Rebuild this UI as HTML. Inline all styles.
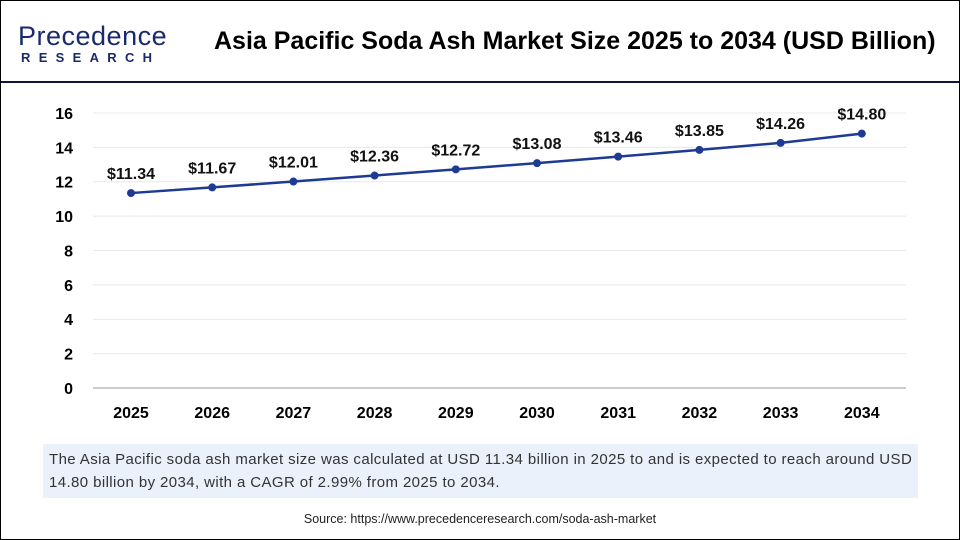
<!DOCTYPE html>
<html><head><meta charset="utf-8"><style>
body{margin:0;background:#fff;font-family:"Liberation Sans",Arial,sans-serif;}
#root{position:relative;width:958px;height:538px;border:1px solid #000;overflow:hidden;background:#fff;}
.abs{position:absolute;}
</style></head><body>
<div id="root">
 <div class="abs" style="left:17px;top:20px;width:140px;height:45px;">
  <div style="font-size:27px;color:#1a2a6c;letter-spacing:0.5px;line-height:30px;">Precedence</div>
  <div style="font-size:13px;font-weight:bold;color:#1a2a6c;letter-spacing:8.3px;line-height:14px;margin-left:3px;">RESEARCH</div>
 </div>
 <div class="abs" style="left:213px;top:26px;width:720px;font-size:25px;font-weight:bold;color:#000;white-space:nowrap;">Asia Pacific Soda Ash Market Size 2025 to 2034 (USD Billion)</div>
 <div class="abs" style="left:0;top:80px;width:958px;height:2px;background:#0d1440;"></div>
 <svg class="abs" style="left:0;top:0" width="958" height="440" id="chart"></svg>
 <div class="abs" style="left:42px;top:443px;width:863px;height:46px;padding:4px 6px;background:#eaf1fa;font-size:15px;letter-spacing:0.4px;line-height:23px;color:#333;white-space:nowrap;">The Asia Pacific soda ash market size was calculated at USD 11.34 billion in 2025 to and is expected to reach around USD<br>14.80 billion by 2034, with a CAGR of 2.99% from 2025 to 2034.</div>
 <div class="abs" style="left:0;top:511px;width:958px;text-align:center;font-size:12.5px;color:#222;">Source: https://www.precedenceresearch.com/soda-ash-market</div>
</div>
<script>
const years=["2025","2026","2027","2028","2029","2030","2031","2032","2033","2034"];
const values=[11.34,11.67,12.01,12.36,12.72,13.08,13.46,13.85,14.26,14.80];
const labels=["$11.34","$11.67","$12.01","$12.36","$12.72","$13.08","$13.46","$13.85","$14.26","$14.80"];
const yTicks=[0,2,4,6,8,10,12,14,16];
const NS="http://www.w3.org/2000/svg";
const svg=document.getElementById('chart');
const x=i=>130+i*81.2;
const y=v=>387-v*17.19;
function mk(t,a){const e=document.createElementNS(NS,t);for(const k in a)e.setAttribute(k,a[k]);svg.appendChild(e);return e;}
yTicks.forEach(t=>{
 const g=mk('line',{x1:92,x2:905,y1:y(t),y2:y(t),stroke:t===0?'#bbb':'#e8e8e8','stroke-width':t===0?1.5:1});
 
 
 const l=mk('text',{x:72,y:y(t)+6,'text-anchor':'end','font-size':16,'font-weight':'bold',fill:'#000'});
 l.textContent=t;
 
 
});
years.forEach((yr,i)=>{
 const l=mk('text',{x:x(i),y:417,'text-anchor':'middle','font-size':16,'font-weight':'bold',fill:'#000'});
 l.textContent=yr;
 
 
});
const line=mk('polyline',{points:values.map((v,i)=>x(i)+','+y(v)).join(' '),fill:'none',stroke:'#1f3a93','stroke-width':2.5});


values.forEach((v,i)=>{
 const c=mk('circle',{cx:x(i),cy:y(v),r:4,fill:'#1f3a93'});
 
 
 const t=mk('text',{x:x(i),y:y(v)-14,'text-anchor':'middle','font-size':16,'font-weight':'bold',fill:'#111'});
 t.textContent=labels[i];
 
 
});
</script>
</body></html>
